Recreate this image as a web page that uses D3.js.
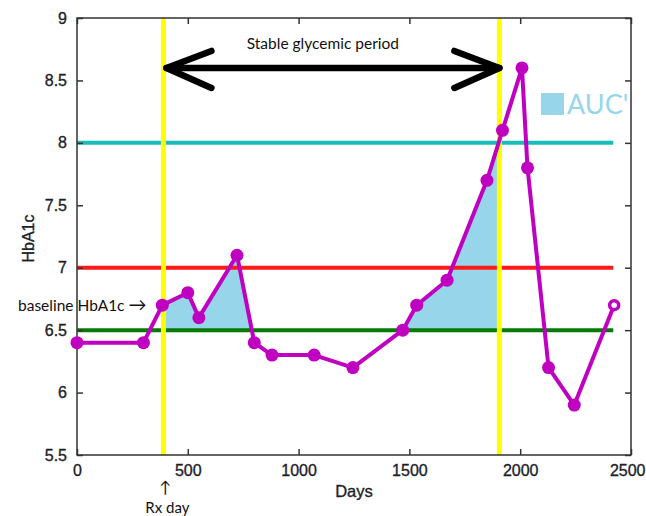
<!DOCTYPE html>
<html>
<head>
<meta charset="utf-8">
<script src="https://cdn.jsdelivr.net/npm/d3@7"></script>
<style>
  html, body { margin: 0; padding: 0; background: #fff; }
  svg { display: block; }
</style>
</head>
<body>
<svg id="chart" width="646" height="516"></svg>
<script>
// ---- data ----
const days  = [0, 300, 385, 500, 550, 722, 800, 880, 1070, 1245, 1470, 1533, 1670, 1850, 1920, 2008, 2033, 2128, 2244, 2424];
const hba1c = [6.4, 6.4, 6.7, 6.8, 6.6, 7.1, 6.4, 6.3, 6.3, 6.2, 6.5, 6.7, 6.9, 7.7, 8.1, 8.6, 7.8, 6.2, 5.9, 6.7];
const refLevels = [8, 7, 6.5];
const refColors = ["#17bcbc", "#ff1a1a", "#057a05"];
const refEnd = 2420;
const rxDay = 390;
const stableEnd = 1906;
const baseline = 6.5;
const xTicks = [0, 500, 1000, 1500, 2000, 2500];
const yTicks = [5.5, 6, 6.5, 7, 7.5, 8, 8.5, 9];
const arrowLevel = 8.6;

// ---- layout ----
const svg = d3.select("#chart");
const L = 77, R = 631, T = 18, B = 455;
const x = d3.scaleLinear().domain([0, 2500]).range([L, R]);
const y = d3.scaleLinear().domain([5.5, 9]).range([B, T]);
const axisFont = "'Liberation Sans', Arial, sans-serif";
const noteFont = "Lato, 'Open Sans', sans-serif";
const magenta = "#c000c0";
const aucBlue = "#97d6ea";

const data = days.map((d, i) => ({d, v: hba1c[i]}));

// ---- AUC shading ----
const defs = svg.append("defs");
defs.append("clipPath").attr("id", "aucClip").append("rect")
  .attr("x", x(rxDay)).attr("y", T)
  .attr("width", x(stableEnd) - x(rxDay)).attr("height", y(baseline) - T);
svg.append("path")
  .datum(data)
  .attr("clip-path", "url(#aucClip)")
  .attr("fill", aucBlue)
  .attr("d", d3.area().x(p => x(p.d)).y0(y(baseline)).y1(p => y(p.v)));

// ---- reference lines ----
svg.selectAll("line.ref").data(refLevels).join("line")
  .attr("class", "ref")
  .attr("x1", x(0)).attr("x2", x(refEnd))
  .attr("y1", d => y(d)).attr("y2", d => y(d))
  .attr("stroke", (d, i) => refColors[i]).attr("stroke-width", 4);

// ---- yellow vertical lines ----
svg.selectAll("line.vy").data([rxDay, stableEnd]).join("line")
  .attr("class", "vy")
  .attr("x1", d => x(d)).attr("x2", d => x(d))
  .attr("y1", y(9)).attr("y2", y(5.5))
  .attr("stroke", "#ffff00").attr("stroke-width", 5);

// ---- frame & ticks ----
const frame = svg.append("g");
frame.append("rect").attr("x", L).attr("y", T).attr("width", R - L).attr("height", B - T)
  .attr("fill", "none").attr("stroke", "#333").attr("stroke-width", 1.5);

const xAxis = d3.axisBottom(x).tickValues(xTicks).tickSize(-6).tickPadding(10).tickFormat(d3.format("d"));
const gx = svg.append("g").attr("transform", `translate(0,${B})`).call(xAxis);
const xAxisTop = d3.axisTop(x).tickValues(xTicks).tickSize(-6).tickFormat("");
const gxt = svg.append("g").attr("transform", `translate(0,${T})`).call(xAxisTop);
const yAxis = d3.axisLeft(y).tickValues(yTicks).tickSize(-6).tickPadding(10).tickFormat(d => String(d));
const gy = svg.append("g").attr("transform", `translate(${L},0)`).call(yAxis);
const yAxisR = d3.axisRight(y).tickValues(yTicks).tickSize(-6).tickFormat("");
const gyr = svg.append("g").attr("transform", `translate(${R},0)`).call(yAxisR);
[gx, gxt, gy, gyr].forEach(g => {
  g.select(".domain").remove();
  g.selectAll(".tick line").attr("stroke", "#333").attr("stroke-width", 1.5);
  g.selectAll("text").attr("font-family", axisFont).attr("font-size", 16).attr("fill", "#1e1e2a")
    .attr("stroke", "#1e1e2a").attr("stroke-width", 0.35);
});
// keep the last x label inside the picture
gx.selectAll(".tick text").filter(d => d === 2500).attr("text-anchor", "end").attr("dx", 14);

// ---- data line ----
svg.append("path").datum(data)
  .attr("fill", "none").attr("stroke", magenta).attr("stroke-width", 4)
  .attr("stroke-linejoin", "round")
  .attr("d", d3.line().x(p => x(p.d)).y(p => y(p.v)));
svg.selectAll("circle.pt").data(data).join("circle")
  .attr("class", "pt")
  .attr("cx", p => x(p.d)).attr("cy", p => y(p.v))
  .attr("r", (p, i) => i === data.length - 1 ? 4.5 : 6.5)
  .attr("fill", (p, i) => i === data.length - 1 ? "#fff" : magenta)
  .attr("stroke", magenta)
  .attr("stroke-width", (p, i) => i === data.length - 1 ? 3.5 : 0);

// ---- double arrow ----
const ay = y(arrowLevel), ax1 = x(rxDay) + 3, ax2 = x(stableEnd);
const arrow = svg.append("g").attr("stroke", "#000").attr("stroke-width", 6.5)
  .attr("stroke-linecap", "round").attr("fill", "none");
arrow.append("line").attr("x1", ax1).attr("x2", ax2).attr("y1", ay).attr("y2", ay);
arrow.append("path").attr("d", `M${ax1 + 45},${ay - 17} L${ax1},${ay} L${ax1 + 45},${ay + 20}`).attr("stroke-linejoin", "round");
arrow.append("path").attr("d", `M${ax2 - 45},${ay - 17} L${ax2},${ay} L${ax2 - 45},${ay + 20}`).attr("stroke-linejoin", "round");

svg.append("text").attr("x", (ax1 + ax2) / 2 - 10).attr("y", 49)
  .attr("text-anchor", "middle").attr("font-family", noteFont).attr("font-size", 15.5)
  .attr("fill", "#111").text("Stable glycemic period");

// ---- AUC legend ----
defs.append("clipPath").attr("id", "legClip").append("rect")
  .attr("x", 520).attr("y", 60).attr("width", R - 2 - 520).attr("height", 80);
const leg = svg.append("g").attr("clip-path", "url(#legClip)");
leg.append("rect").attr("x", 541).attr("y", 93).attr("width", 23).attr("height", 22).attr("fill", aucBlue);
leg.append("text").attr("x", 567).attr("y", 114).attr("font-family", noteFont).attr("font-size", 27)
  .attr("fill", aucBlue).text("AUC\"");

// ---- notes ----
const base = svg.append("text").attr("x", 18).attr("y", 311).attr("font-family", noteFont).attr("font-size", 15.5)
  .attr("fill", "#111");
base.append("tspan").text("baseline  HbA1c ");
base.append("tspan").attr("font-size", 18).text("\u2192");
svg.append("text").attr("x", x(rxDay) + 2).attr("y", 493).attr("text-anchor", "middle")
  .attr("font-family", noteFont).attr("font-size", 16).attr("fill", "#111").text("\u2191");
svg.append("text").attr("x", x(rxDay) + 4).attr("y", 513).attr("text-anchor", "middle")
  .attr("font-family", noteFont).attr("font-size", 15).attr("fill", "#111").text("Rx day");

// ---- axis titles ----
svg.append("text").attr("x", (L + R) / 2).attr("y", 497).attr("text-anchor", "middle")
  .attr("font-family", axisFont).attr("font-size", 16.5).attr("fill", "#1e1e2a")
  .attr("stroke", "#1e1e2a").attr("stroke-width", 0.35).text("Days");
svg.append("text").attr("transform", `translate(34,${(T + B) / 2 + 2}) rotate(-90)`)
  .attr("text-anchor", "middle").attr("font-family", axisFont).attr("font-size", 16)
  .attr("fill", "#1e1e2a").attr("stroke", "#1e1e2a").attr("stroke-width", 0.35).text("HbA1c");
</script>
</body>
</html>
